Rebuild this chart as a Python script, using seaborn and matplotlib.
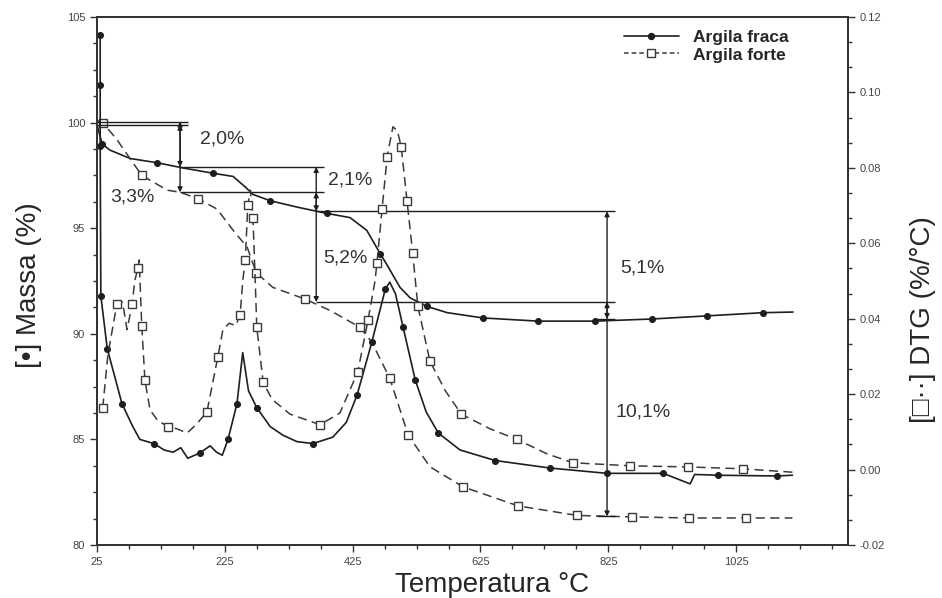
import numpy as np
import pandas as pd
import matplotlib.pyplot as plt
import seaborn as sns
from matplotlib.lines import Line2D
from matplotlib.ticker import FixedLocator, MultipleLocator, FormatStrFormatter

# DATA
# Mass curves (left axis, %)
temp_mass_fraca = [25, 33, 45, 77, 119, 160, 207, 238, 257, 269, 296, 338, 369, 385, 421, 447,
                   468, 480, 499, 515, 541, 573, 629, 715, 804, 893, 980, 1067, 1114]
mass_fraca = [99.9, 99.0, 98.7, 98.3, 98.1, 97.85, 97.6, 97.45, 96.95, 96.6, 96.3, 96.0, 95.8, 95.7,
              95.5, 94.9, 93.8, 93.2, 92.2, 91.7, 91.3, 91.0, 90.75, 90.6, 90.6, 90.7, 90.85, 91.0, 91.03]
marks_mass_fraca = [33, 119, 207, 296, 385, 468, 541, 629, 715, 804, 893, 980, 1067]

temp_mass_forte = [25, 34, 56, 95, 135, 155, 183, 213, 238, 260, 274, 300, 350, 390, 437, 455,
                   483, 512, 546, 598, 684, 776, 862, 951, 1041, 1113]
mass_forte = [100.1, 100.0, 99.2, 97.5, 96.8, 96.7, 96.4, 95.9, 94.9, 94.1, 92.9, 92.2, 91.65, 91.1,
              90.3, 89.6, 87.9, 85.2, 83.7, 82.75, 81.85, 81.4, 81.33, 81.28, 81.28, 81.28]
marks_mass_forte = [34, 95, 183, 274, 350, 437, 483, 512, 598, 684, 776, 862, 951, 1041]

# DTG curves (right axis, %/°C)
temp_dtg_fraca = [30, 30, 30, 31, 41, 64, 81, 92, 114, 130, 144, 156, 167, 186, 202, 212, 221, 230,
                  244, 253, 262, 275, 296, 316, 338, 363, 394, 415, 432, 455, 476, 483, 492, 504,
                  523, 540, 559, 593, 648, 734, 823, 911, 953, 960, 997, 1089, 1113]
dtg_fraca = [0.1152, 0.1021, 0.0858, 0.0461, 0.0321, 0.0175, 0.0114, 0.0080, 0.0069, 0.0052, 0.0046,
             0.0058, 0.0030, 0.0044, 0.0063, 0.0046, 0.0038, 0.0080, 0.0175, 0.0310, 0.0209, 0.0164,
             0.0114, 0.0091, 0.0074, 0.0069, 0.0086, 0.0125, 0.0198, 0.0338, 0.0478, 0.0497, 0.0466,
             0.0377, 0.0237, 0.0153, 0.0097, 0.0052, 0.0024, 0.0004, -0.0010, -0.0010, -0.0038,
             -0.0013, -0.0015, -0.0017, -0.0015]
marks_dtg_fraca = [0, 1, 2, 3, 4, 5, 8, 13, 17, 18, 21, 25, 28, 29, 30, 33, 34, 36, 38, 39, 40, 41, 44, 45]

temp_dtg_forte = [34, 42, 56, 65, 72, 80, 84, 89, 91, 95, 100, 108, 120, 136, 150, 166, 180, 197, 214,
                  222, 232, 242, 249, 253, 257, 261, 265, 269, 272, 275, 285, 299, 327, 374, 405, 433,
                  449, 460, 463, 471, 479, 488, 495, 501, 510, 519, 527, 546, 570, 595, 640, 682, 730,
                  770, 859, 950, 1036, 1113]
dtg_forte = [0.0164, 0.0304, 0.0438, 0.0444, 0.0371, 0.0438, 0.0500, 0.0534, 0.0556, 0.0382, 0.0237,
             0.0158, 0.0130, 0.0114, 0.0108, 0.0097, 0.0119, 0.0153, 0.0298, 0.0371, 0.0388, 0.0382,
             0.0410, 0.0500, 0.0556, 0.0702, 0.0741, 0.0668, 0.0528, 0.0377, 0.0231, 0.0186, 0.0147,
             0.0119, 0.0150, 0.0259, 0.0396, 0.0500, 0.0548, 0.0690, 0.0830, 0.0909, 0.0898, 0.0856,
             0.0713, 0.0573, 0.0433, 0.0287, 0.0209, 0.0147, 0.0108, 0.0080, 0.0041, 0.0018, 0.0010,
             0.0007, 0.0002, -0.0007]
marks_dtg_forte = [34, 56, 80, 89, 95, 100, 136, 197, 214, 249, 257, 261, 269, 275, 285, 374, 433, 449,
                   463, 471, 479, 501, 510, 519, 527, 546, 595, 682, 770, 859, 950, 1036]

# Mass-loss steps
step_temps = [155, 368, 823]
levels_fraca = [99.9, 97.9, 95.8, 90.7]
levels_forte = [100.05, 96.7, 91.5, 81.35]
labels_fraca = ['2,0%', '2,1%', '5,1%']
labels_forte = ['3,3%', '5,2%', '10,1%']

series_names = ['Argila fraca', 'Argila forte']

# PLOTTING
sns.set_style('ticks')
plt.rcParams['font.family'] = ['Liberation Sans', 'DejaVu Sans']
ink = '#1e1e1e'
grey = '#3a3a3a'

fig = plt.figure(figsize=(9.42, 5.98), dpi=100)
ax = fig.add_axes([97/942, 53/598, 751/942, 528/598])
ax2 = ax.twinx()

solid = dict(color=ink, lw=1.2, marker='o', markersize=4.3, markerfacecolor=ink,
             markeredgecolor=ink, estimator=None, sort=False)
dashed = dict(color=grey, lw=1.1, linestyle=(0, (6, 3.5)), marker='s', markersize=6,
              markerfacecolor='white', markeredgecolor=grey, markeredgewidth=1.0,
              estimator=None, sort=False)

def idx(temps, marks):
    return [temps.index(t) for t in marks]

sns.lineplot(x=temp_mass_fraca, y=mass_fraca, ax=ax,
             markevery=idx(temp_mass_fraca, marks_mass_fraca), **solid)
sns.lineplot(x=temp_mass_forte, y=mass_forte, ax=ax,
             markevery=idx(temp_mass_forte, marks_mass_forte), **dashed)
sns.lineplot(x=temp_dtg_fraca, y=dtg_fraca, ax=ax2, markevery=marks_dtg_fraca, **solid)
sns.lineplot(x=temp_dtg_forte, y=dtg_forte, ax=ax2,
             markevery=idx(temp_dtg_forte, marks_dtg_forte), **dashed)

# Step guide lines and arrows
arrow = dict(arrowstyle='<|-|>', color=ink, lw=1.0, mutation_scale=7, shrinkA=0, shrinkB=0)
bounds = [25] + step_temps
for levels in (levels_fraca, levels_forte):
    for i, lev in enumerate(levels[:-1]):
        ax.hlines(lev, bounds[i], step_temps[i] + 12, color=ink, lw=1.0)
    ax.hlines(levels[-1], step_temps[-1] - 15, step_temps[-1] + 12, color=ink, lw=1.0)
    for i, t in enumerate(step_temps):
        ax.annotate('', xy=(t, levels[i + 1]), xytext=(t, levels[i]), arrowprops=arrow)

label_pos_fraca = [(221, 99.2), (421, 97.3), (879, 93.1)]
label_pos_forte = [(81, 96.5), (413, 93.6), (879, 86.3)]
for txt, (x, y) in zip(labels_fraca + labels_forte, label_pos_fraca + label_pos_forte):
    ax.text(x, y, txt, fontsize=14, color='#333333', ha='center', va='center')

# Axes formatting
ax.set_xlim(25, 1200)
ax.set_ylim(80, 105)
ax2.set_ylim(-0.02, 0.12)
ax.xaxis.set_major_locator(FixedLocator(np.arange(25, 1200, 200)))
ax.xaxis.set_minor_locator(FixedLocator(np.arange(25, 1201, 50)))
ax.yaxis.set_major_locator(MultipleLocator(5))
ax.yaxis.set_minor_locator(MultipleLocator(1.25))
ax2.yaxis.set_major_locator(MultipleLocator(0.02))
ax2.yaxis.set_minor_locator(MultipleLocator(0.02 / 3))
ax2.yaxis.set_major_formatter(FormatStrFormatter('%.2f'))
for a in (ax, ax2):
    a.tick_params(which='major', direction='out', length=5, width=1, labelsize=8,
                  labelcolor='#444444', color='#333333')
    a.tick_params(which='minor', direction='out', length=3, width=1, color='#333333')
    a.set_xlabel('')
    a.set_ylabel('')
    for s in a.spines.values():
        s.set_linewidth(1.3)
        s.set_color('#333333')

handles = [Line2D([], [], color=ink, lw=1.2, marker='o', markersize=4.3, markerfacecolor=ink),
           Line2D([], [], color=grey, lw=1.1, linestyle=(0, (3, 2)), marker='s', markersize=6,
                  markerfacecolor='white', markeredgecolor=grey)]
fig.legend(handles, series_names, loc='upper left', bbox_to_anchor=(608/942, 1 - 14/598),
           frameon=False, handlelength=3.2, handletextpad=0.8, labelspacing=0.15,
           prop=dict(weight='bold', size=12.5))

fig.text(29/942, 1 - 285/598, '[•] Massa (%)', rotation=90, fontsize=20, ha='center', va='center')
fig.text(923/942, 1 - 320/598, '[□··] DTG (%/°C)', rotation=90, fontsize=20, ha='center', va='center')
fig.text(492/942, 1 - 585/598, 'Temperatura °C', fontsize=20, ha='center', va='center')

fig.savefig('out.png', dpi=100)
